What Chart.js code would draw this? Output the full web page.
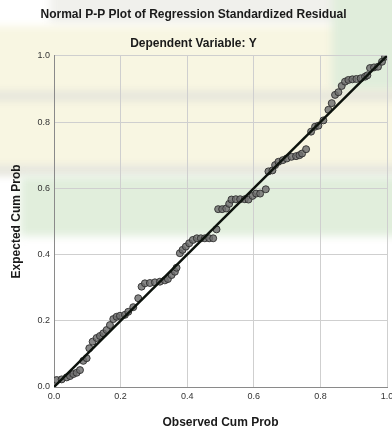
<!DOCTYPE html>
<html>
<head>
<meta charset="utf-8">
<script src="https://cdn.jsdelivr.net/npm/chart.js@4.4.0/dist/chart.umd.min.js"></script>
<style>
  html, body { margin: 0; padding: 0; background: #fff; }
  #wrap { width: 392px; height: 431px; }
</style>
</head>
<body>
<div id="wrap"><canvas id="ppChart" width="392" height="431"></canvas></div>
<script>
// observed cum prob (x) and expected cum prob (y)
const observed = [
  0.008, 0.023, 0.038, 0.048, 0.058, 0.068, 0.078, 0.088, 0.098, 0.106,
  0.116, 0.128, 0.138, 0.148, 0.158, 0.168, 0.178, 0.188, 0.198, 0.213,
  0.223, 0.238, 0.253, 0.263, 0.273, 0.288, 0.303, 0.318, 0.333, 0.342,
  0.353, 0.363, 0.368,
  0.378, 0.386, 0.396, 0.406, 0.417, 0.429, 0.441, 0.453, 0.466, 0.478, 0.488,
  0.493, 0.505, 0.517, 0.526, 0.533, 0.546, 0.559, 0.573, 0.584, 0.596,
  0.607, 0.619, 0.636,
  0.644, 0.656, 0.664, 0.674, 0.687, 0.699, 0.713, 0.727, 0.737, 0.745, 0.757,
  0.772, 0.784, 0.794, 0.809, 0.824, 0.834, 0.844, 0.854, 0.864, 0.874,
  0.884, 0.896, 0.908, 0.921, 0.934, 0.941, 0.949, 0.961, 0.973, 0.985, 0.994
];
const expected = [
  0.021, 0.023, 0.029, 0.033, 0.039, 0.043, 0.051, 0.079, 0.087, 0.117,
  0.137, 0.148, 0.154, 0.162, 0.172, 0.187, 0.205, 0.212, 0.215, 0.218,
  0.227, 0.241, 0.268, 0.303, 0.313, 0.314, 0.316, 0.318, 0.322, 0.326,
  0.338, 0.348, 0.360,
  0.404, 0.414, 0.424, 0.434, 0.444, 0.449, 0.449, 0.449, 0.449, 0.449, 0.476,
  0.537, 0.537, 0.539, 0.553, 0.566, 0.567, 0.567, 0.567, 0.566, 0.577,
  0.584, 0.584, 0.597,
  0.651, 0.654, 0.670, 0.680, 0.685, 0.690, 0.695, 0.697, 0.700, 0.705, 0.718,
  0.771, 0.786, 0.789, 0.805, 0.837, 0.857, 0.882, 0.890, 0.909, 0.922,
  0.927, 0.929, 0.930, 0.932, 0.937, 0.941, 0.963, 0.965, 0.967, 0.982, 0.997
];
// diagonal reference line
const refX = [0, 1];
const refY = [0, 1];
const tickStep = 0.2;

const FONT = "'Liberation Sans', Arial, sans-serif";

// soft watermark bands behind the chart
const watermark = {
  id: 'watermark',
  beforeDraw(chart) {
    const c = chart.ctx;
    c.save();
    c.fillStyle = '#ffffff'; c.fillRect(0, 0, 392, 431);
    c.filter = 'blur(4px)';
    c.fillStyle = '#f0f0ec'; c.fillRect(50, -10, 290, 34);
    c.fillStyle = '#f8f6e2'; c.fillRect(-10, 26, 412, 144);
    c.fillStyle = '#e0eddb'; c.fillRect(332, -10, 70, 100);
    c.fillStyle = '#e2e2da'; c.fillRect(-10, 92, 412, 8);
    c.fillStyle = '#e2e2d9'; c.fillRect(-10, 166, 412, 9);
    c.fillStyle = '#e1eedc'; c.fillRect(20, 176, 382, 60);
    c.restore();
  }
};

const ctx = document.getElementById('ppChart').getContext('2d');
new Chart(ctx, {
  type: 'scatter',
  data: {
    datasets: [{
      data: refX.map((x, i) => ({ x: x, y: refY[i] })),
      showLine: true,
      borderColor: '#0c120c',
      borderWidth: 2.5,
      pointRadius: 0,
      order: 0
    }, {
      data: observed.map((x, i) => ({ x: x, y: expected[i] })),
      backgroundColor: 'rgba(110,110,110,0.82)',
      borderColor: 'rgba(45,45,45,0.9)',
      borderWidth: 1,
      pointRadius: 3.5,
      order: 1
    }]
  },
  options: {
    responsive: false,
    animation: false,
    layout: { padding: { left: 0, right: 5, top: 0, bottom: 0 } },
    plugins: {
      legend: { display: false },
      tooltip: { enabled: false },
      title: {
        display: true,
        text: 'Normal P-P Plot of Regression Standardized Residual',
        color: '#1a1a1a',
        font: { family: FONT, size: 12, weight: 'bold' },
        padding: { top: 7, bottom: 0 }
      },
      subtitle: {
        display: true,
        text: 'Dependent Variable: Y',
        color: '#1a1a1a',
        font: { family: FONT, size: 12, weight: 'bold' },
        padding: { top: 15, bottom: 5 }
      }
    },
    scales: {
      x: {
        type: 'linear', min: 0, max: 1,
        ticks: {
          stepSize: tickStep, padding: 4, color: '#333',
          font: { family: FONT, size: 9 },
          callback: v => v.toFixed(1)
        },
        grid: { color: '#cfcfcf', drawTicks: false },
        border: { color: '#8a8a8a' },
        title: {
          display: true, text: 'Observed Cum Prob', color: '#1a1a1a',
          font: { family: FONT, size: 12, weight: 'bold' },
          padding: { top: 0, bottom: 1 }
        },
        afterFit(s) { s.height = 44; s.paddingLeft = 0; s.paddingRight = 0; }
      },
      y: {
        type: 'linear', min: 0, max: 1,
        ticks: {
          stepSize: tickStep, padding: 4, color: '#333',
          font: { family: FONT, size: 9 },
          callback: v => v.toFixed(1)
        },
        grid: { color: '#cfcfcf', drawTicks: false },
        border: { color: '#8a8a8a' },
        title: {
          display: true, text: 'Expected Cum Prob', color: '#1a1a1a',
          font: { family: FONT, size: 12, weight: 'bold' },
          padding: { top: 9, bottom: 0 }
        },
        afterFit(s) { s.width = 54; s.paddingTop = 0; s.paddingBottom = 0; }
      }
    }
  },
  plugins: [watermark]
});
</script>
</body>
</html>
